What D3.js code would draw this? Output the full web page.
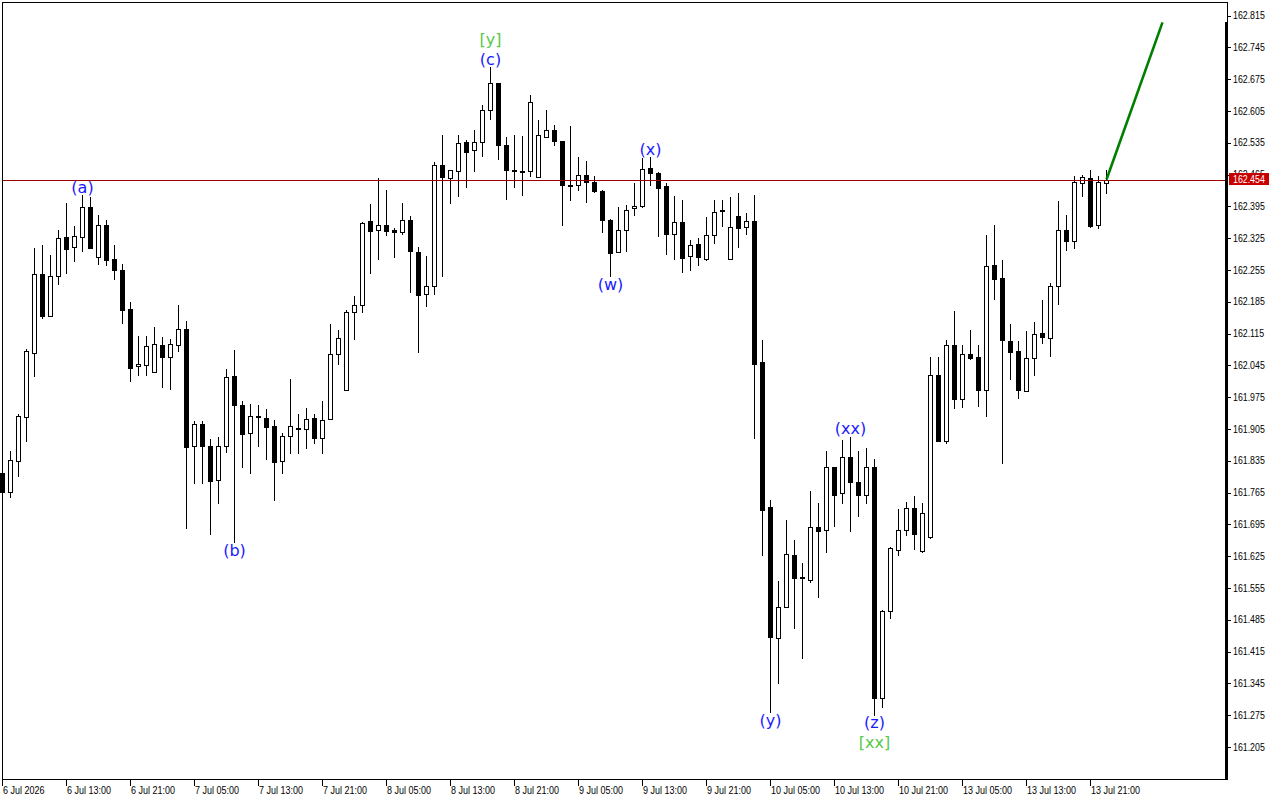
<!DOCTYPE html>
<html>
<head>
<meta charset="utf-8">
<script src="https://cdn.jsdelivr.net/npm/d3@7"></script>
<style>
    body { margin: 0; background: #fff; }
    svg { display: block; }
</style>
</head>
<body>
<div id="chart"></div>
<script>

const WIDTH = 1280;
const HEIGHT = 800;
const PLOT_RIGHT = 1227;
const PLOT_BOTTOM = 779.5;

// H1 candles, 6 Jul 05:00 -> 13 Jul 23:00
const opens = [161.808,161.767,161.835,161.932,162.073,162.246,162.154,162.242,162.327,162.305,
    162.328,162.393,162.284,162.353,162.279,162.254,162.168,162.043,162.045,162.030,
    162.089,162.064,162.089,162.126,161.867,161.915,161.867,161.792,161.867,162.021,
    161.957,161.897,161.932,161.930,161.911,161.834,161.889,161.908,161.906,161.930,
    161.886,161.926,162.071,161.990,162.162,162.177,162.362,162.342,162.355,162.342,
    162.338,162.364,162.294,162.201,162.219,162.485,162.457,162.472,162.537,162.518,
    162.536,162.608,162.666,162.531,162.474,162.472,162.472,162.459,162.547,162.562,
    162.538,162.439,162.443,162.465,162.448,162.428,162.366,162.294,162.342,162.391,
    162.396,162.480,162.468,162.439,162.334,162.361,162.285,162.311,162.280,162.331,
    162.388,162.280,162.373,162.350,162.362,162.052,161.733,161.446,161.514,161.627,
    161.579,161.572,161.690,161.683,161.822,161.763,161.844,161.789,161.759,161.822,
    161.313,161.505,161.639,161.682,161.730,161.637,161.668,162.024,161.878,162.089,
    161.970,162.071,162.063,161.990,162.266,162.237,162.098,162.076,161.989,162.062,
    162.116,162.106,162.220,162.343,162.318,162.446,162.457,162.355,162.446];

const highs = [161.819,161.856,161.939,162.080,162.304,162.310,162.288,162.343,162.403,162.352,
    162.421,162.416,162.377,162.365,162.310,162.267,162.184,162.109,162.109,162.129,
    162.107,162.102,162.177,162.142,161.922,161.922,161.882,161.888,162.038,162.079,
    161.966,161.961,161.957,161.950,161.924,161.897,162.016,161.939,161.952,161.937,
    161.966,162.135,162.122,162.167,162.197,162.360,162.400,162.457,162.431,162.347,
    162.402,162.374,162.305,162.285,162.492,162.551,162.474,162.553,162.542,162.564,
    162.617,162.702,162.666,162.547,162.553,162.549,162.641,162.586,162.608,162.575,
    162.538,162.571,162.503,162.494,162.461,162.432,162.368,162.393,162.397,162.446,
    162.501,162.503,162.470,162.447,162.418,162.409,162.320,162.325,162.371,162.409,
    162.409,162.415,162.424,162.380,162.420,162.101,161.748,161.570,161.704,161.661,
    161.610,161.768,161.742,161.856,161.822,161.880,161.888,161.856,161.863,161.838,
    161.506,161.646,161.729,161.744,161.757,161.741,162.063,162.063,162.100,162.164,
    162.090,162.123,162.090,162.332,162.354,162.277,162.137,162.098,162.120,162.140,
    162.189,162.227,162.407,162.376,162.462,162.464,162.475,162.462,162.475];

const lows = [161.759,161.756,161.801,161.878,162.021,162.150,162.153,162.223,162.249,162.275,
    162.297,162.304,162.268,162.266,162.235,162.139,162.011,162.024,162.024,162.030,
    161.998,161.993,162.076,161.687,161.787,161.787,161.674,161.743,161.855,161.657,
    161.822,161.809,161.868,161.838,161.749,161.807,161.851,161.851,161.864,161.873,
    161.853,161.926,162.047,161.990,162.104,162.163,162.249,162.278,162.331,162.284,
    162.333,162.206,162.074,162.176,162.203,162.242,162.402,162.418,162.438,162.473,
    162.506,162.588,162.500,162.412,162.438,162.419,162.462,162.459,162.547,162.529,
    162.354,162.410,162.431,162.405,162.426,162.339,162.242,162.294,162.296,162.377,
    162.393,162.442,162.329,162.291,162.280,162.251,162.254,162.266,162.277,162.315,
    162.352,162.280,162.305,162.334,161.886,161.628,161.282,161.346,161.514,161.468,
    161.401,161.569,161.536,161.634,161.692,161.742,161.681,161.714,161.741,161.275,
    161.294,161.488,161.627,161.671,161.641,161.634,161.666,161.878,161.875,161.952,
    161.954,162.059,161.956,161.934,162.192,161.831,162.015,161.973,161.988,162.024,
    162.094,162.066,162.180,162.299,162.303,162.418,162.350,162.348,162.424];

const closes = [161.766,161.836,161.933,162.076,162.247,162.154,162.242,162.325,162.302,162.330,
    162.393,162.304,162.353,162.277,162.254,162.167,162.040,162.048,162.087,162.091,
    162.064,162.091,162.126,161.866,161.915,161.867,161.791,161.867,162.019,161.957,
    161.894,161.933,161.933,161.910,161.833,161.889,161.911,161.906,161.928,161.884,
    161.924,162.069,162.106,162.162,162.177,162.358,162.341,162.353,162.341,162.338,
    162.364,162.296,162.199,162.219,162.485,162.459,162.474,162.534,162.514,162.536,
    162.606,162.666,162.529,162.474,162.472,162.470,162.624,162.551,162.562,162.538,
    162.441,162.443,162.465,162.448,162.428,162.364,162.293,162.342,162.388,162.395,
    162.478,162.469,162.436,162.335,162.361,162.282,162.309,162.283,162.331,162.382,
    162.387,162.349,162.348,162.362,162.049,161.727,161.448,161.514,161.629,161.578,
    161.578,161.690,161.680,161.822,161.760,161.844,161.789,161.760,161.822,161.313,
    161.504,161.642,161.683,161.730,161.674,161.721,162.024,161.878,162.089,161.971,
    162.071,162.062,161.990,162.264,162.234,162.101,162.075,161.991,162.062,162.114,
    162.108,162.219,162.343,162.319,162.448,162.459,162.352,162.448,162.454];

const timeLabels = ["6 Jul 2026","6 Jul 13:00","6 Jul 21:00","7 Jul 05:00","7 Jul 13:00","7 Jul 21:00",
    "8 Jul 05:00","8 Jul 13:00","8 Jul 21:00","9 Jul 05:00","9 Jul 13:00","9 Jul 21:00",
    "10 Jul 05:00","10 Jul 13:00","10 Jul 21:00","13 Jul 05:00","13 Jul 13:00","13 Jul 21:00"];
const timeTickIndex = [0,8,16,24,32,40,48,56,64,72,80,88,96,104,112,120,128,136];

const priceTicks = [161.205,161.275,161.345,161.415,161.485,161.555,161.625,161.695,161.765,161.835,
    161.905,161.975,162.045,162.115,162.185,162.255,162.325,162.395,162.465,162.535,
    162.605,162.675,162.745,162.815];

const lastPrice = 162.454;

// Elliott wave marks: text, candle index, price of label centre
const waveText  = ["(a)","(b)","(c)","[y]","(w)","(x)","(y)","(xx)","(z)","[xx]"];
const waveIndex = [10, 29, 61, 61, 76, 81, 96, 106, 109, 109];
const wavePrice = [162.437,161.638,162.719,162.763,162.224,162.521,161.264,161.907,161.260,161.214];
const waveMajor = [false,false,false,true,false,false,false,false,false,true];

// projection line: from last candle to target
const projIndex = [138, 145];
const projPrice = [162.454, 162.800];

const x = d3.scaleLinear().domain([0, 1]).range([2.5, 10.5]);
const y = d3.scaleLinear().domain([161.205, 162.815]).range([747, 15.5]);
const snap = v => Math.round(v) + 0.5;

const svg = d3.select("#chart")
    .append("svg")
        .attr("width", WIDTH)
        .attr("height", HEIGHT)
        .style("font-family", "'Liberation Sans', Arial, sans-serif");

svg.append("rect")
    .attr("width", WIDTH)
    .attr("height", HEIGHT)
    .attr("fill", "#fff");

const candles = opens.map((o, i) => ({ i, o, h: highs[i], l: lows[i], c: closes[i] }));

const plot = svg.append("g").attr("shape-rendering", "crispEdges");

plot.selectAll(".wick")
    .data(candles)
    .enter()
    .append("line")
        .attr("x1", d => x(d.i))
        .attr("x2", d => x(d.i))
        .attr("y1", d => snap(y(d.h)) - 0.5)
        .attr("y2", d => snap(y(d.l)) + 0.5)
        .attr("stroke", "#000")
        .attr("stroke-width", 1);

plot.selectAll(".body")
    .data(candles)
    .enter()
    .append("rect")
        .attr("x", d => x(d.i) - 2)
        .attr("width", 4)
        .attr("y", d => snap(y(Math.max(d.o, d.c))))
        .attr("height", d => Math.max(1, snap(y(Math.min(d.o, d.c))) - snap(y(Math.max(d.o, d.c)))))
        .attr("fill", d => d.c >= d.o ? "#fff" : "#000")
        .attr("stroke", "#000")
        .attr("stroke-width", 1);

// last price line
plot.append("line")
    .attr("x1", 3)
    .attr("x2", PLOT_RIGHT)
    .attr("y1", snap(y(lastPrice)))
    .attr("y2", snap(y(lastPrice)))
    .attr("stroke", "#9a0000")
    .attr("stroke-width", 1);

// projection
svg.append("line")
    .attr("x1", x(projIndex[0]))
    .attr("y1", y(projPrice[0]))
    .attr("x2", x(projIndex[1]))
    .attr("y2", y(projPrice[1]))
    .attr("stroke", "#007f00")
    .attr("stroke-width", 2.6);

// wave labels
svg.selectAll(".wave")
    .data(waveText)
    .enter()
    .append("text")
        .attr("x", (d, k) => x(waveIndex[k]))
        .attr("y", (d, k) => y(wavePrice[k]))
        .attr("text-anchor", "middle")
        .attr("dominant-baseline", "central")
        .style("font-family", "'DejaVu Sans', sans-serif")
        .style("font-size", "16px")
        .attr("fill", (d, k) => waveMajor[k] ? "#58c84a" : "#1a1aff")
        .text(d => d);

// frame
const frame = svg.append("g").attr("shape-rendering", "crispEdges").attr("stroke", "#000");
frame.append("line").attr("x1", 2).attr("x2", PLOT_RIGHT + 1).attr("y1", 2.5).attr("y2", 2.5);
frame.append("line").attr("x1", 2.5).attr("x2", 2.5).attr("y1", 2).attr("y2", PLOT_BOTTOM + 0.5);
frame.append("line").attr("x1", 2).attr("x2", PLOT_RIGHT + 1).attr("y1", PLOT_BOTTOM).attr("y2", PLOT_BOTTOM);
frame.append("line").attr("x1", PLOT_RIGHT + 0.5).attr("x2", PLOT_RIGHT + 0.5).attr("y1", 2).attr("y2", 22);
frame.append("rect")
    .attr("x", PLOT_RIGHT - 2)
    .attr("y", 22)
    .attr("width", 3)
    .attr("height", PLOT_BOTTOM + 0.5 - 22)
    .attr("fill", "#000")
    .attr("stroke", "none");

// price axis
const yAxis = svg.append("g");
yAxis.selectAll("line")
    .data(priceTicks)
    .enter()
    .append("line")
        .attr("shape-rendering", "crispEdges")
        .attr("x1", PLOT_RIGHT + 1)
        .attr("x2", PLOT_RIGHT + 4)
        .attr("y1", d => snap(y(d)))
        .attr("y2", d => snap(y(d)))
        .attr("stroke", "#000");
yAxis.selectAll("text")
    .data(priceTicks)
    .enter()
    .append("text")
        .attr("transform", d => `translate(${PLOT_RIGHT + 6}, ${y(d)}) scale(0.88, 1)`)
        .attr("dominant-baseline", "central")
        .style("font-size", "10px")
        .attr("fill", "#000")
        .text(d => d3.format(".3f")(d));

// last price tag (covers part of the 162.465 label, as in the terminal)
const tag = svg.append("g").attr("transform", `translate(${PLOT_RIGHT + 2}, ${y(lastPrice)})`);
tag.append("rect")
    .attr("x", 0)
    .attr("y", -6.5)
    .attr("width", 40)
    .attr("height", 12)
    .attr("fill", "#c80000");
tag.append("text")
    .attr("transform", "translate(4, 0) scale(0.88, 1)")
    .attr("dominant-baseline", "central")
    .style("font-size", "10px")
    .attr("fill", "#fff")
    .text(d3.format(".3f")(lastPrice));

// time axis
const xAxis = svg.append("g");
xAxis.selectAll("line")
    .data(timeTickIndex)
    .enter()
    .append("line")
        .attr("shape-rendering", "crispEdges")
        .attr("x1", d => Math.floor(x(d)) + 0.5)
        .attr("x2", d => Math.floor(x(d)) + 0.5)
        .attr("y1", PLOT_BOTTOM)
        .attr("y2", PLOT_BOTTOM + 6)
        .attr("stroke", "#000");
xAxis.selectAll("text")
    .data(timeLabels)
    .enter()
    .append("text")
        .attr("transform", (d, k) => `translate(${Math.floor(x(timeTickIndex[k])) + 1}, ${PLOT_BOTTOM + 11}) scale(0.9, 1)`)
        .attr("dominant-baseline", "central")
        .style("font-size", "10px")
        .attr("fill", "#000")
        .text(d => d);

</script>
</body>
</html>
